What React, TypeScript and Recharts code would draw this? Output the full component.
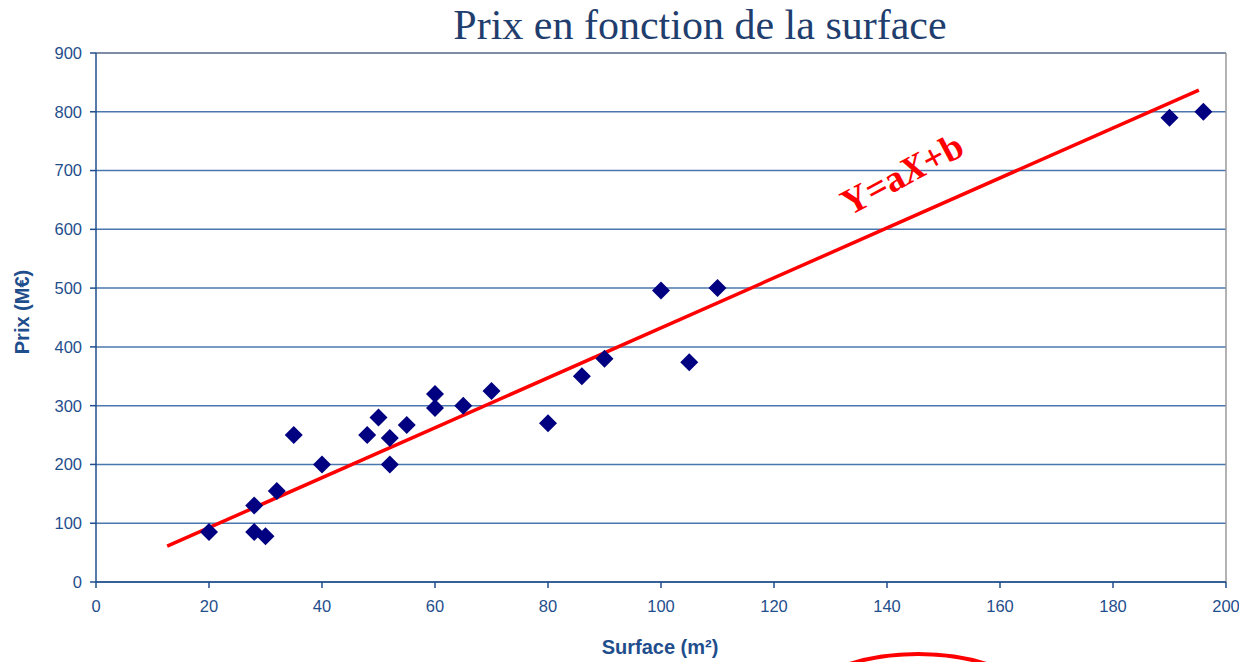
import {
  ScatterChart,
  Scatter,
  XAxis,
  YAxis,
  CartesianGrid,
  ReferenceLine,
  ReferenceDot,
} from 'recharts';

const surfaces = [20, 28, 28, 30, 32, 35, 40, 48, 50, 52, 52, 55, 60, 60, 65, 70, 80, 86, 90, 100, 105, 110, 190, 196];
const prices = [85, 130, 85, 78, 155, 250, 200, 250, 280, 245, 200, 267, 320, 296, 300, 325, 270, 350, 380, 496, 374, 500, 790, 800];

const fitX = [12.6, 195.2];
const fitY = [61, 837];

const xTicks = [0, 20, 40, 60, 80, 100, 120, 140, 160, 180, 200];
const yTicks = [0, 100, 200, 300, 400, 500, 600, 700, 800, 900];

const points = surfaces.map((x, i) => ({ x, y: prices[i] }));
const fitLine = fitX.map((x, i) => ({ x, y: fitY[i] }));

const BLUE = '#1F4E8C';

function Diamond(props: any) {
  const { cx, cy } = props;
  if (cx == null || cy == null) return <g />;
  const r = 9;
  return (
    <polygon
      points={`${cx},${cy - r} ${cx + r},${cy} ${cx},${cy + r} ${cx - r},${cy}`}
      fill="#000080"
    />
  );
}

function EquationLabel(props: any) {
  const { cx, cy } = props;
  return (
    <text
      x={cx}
      y={cy}
      transform={`rotate(-28 ${cx} ${cy})`}
      textAnchor="middle"
      dominantBaseline="middle"
      fill="#FF0000"
      fontFamily="'Liberation Serif', 'Times New Roman', serif"
      fontWeight="bold"
      fontSize={37}
    >
      Y=a<tspan fontStyle="italic">X</tspan>+b
    </text>
  );
}

function Title() {
  return (
    <text
      x={700}
      y={38.5}
      textAnchor="middle"
      fill="#1F3E6E"
      fontFamily="'Liberation Serif', 'Times New Roman', serif"
      fontSize={42}
    >
      Prix en fonction de la surface
    </text>
  );
}

export default function App() {
  return (
    <div style={{ position: 'absolute', left: 0, top: 0, width: 1239, height: 662, background: '#fff', overflow: 'hidden' }}>
      <ScatterChart
        width={1239}
        height={662}
        margin={{ top: 53, right: 13, bottom: 0, left: 0 }}
      >
        <CartesianGrid vertical={false} stroke="#4A77AE" strokeWidth={1.5} />
        <XAxis
          type="number"
          dataKey="x"
          domain={[0, 200]}
          ticks={xTicks}
          height={80}
          stroke={BLUE}
          strokeWidth={1.5}
          tickSize={6}
          tick={{ fill: BLUE, fontSize: 16.5, fontFamily: 'Liberation Sans, Arial, sans-serif' }}
          tickMargin={12}
        />
        <YAxis
          type="number"
          dataKey="y"
          domain={[0, 900]}
          ticks={yTicks}
          width={96}
          stroke={BLUE}
          strokeWidth={1.5}
          tickSize={6}
          tick={{ fill: BLUE, fontSize: 16.5, fontFamily: 'Liberation Sans, Arial, sans-serif' }}
          tickMargin={8}
        />
        <ReferenceLine y={900} stroke="#7F8A99" strokeWidth={1.5} />
        <ReferenceLine x={200} stroke="#9A9A9A" strokeWidth={1.5} />
        <Scatter
          data={fitLine}
          line={{ stroke: '#FF0000', strokeWidth: 3.5 }}
          shape={() => <g />}
          isAnimationActive={false}
        />
        <Scatter data={points} shape={Diamond} isAnimationActive={false} />
        <ReferenceDot x={143} y={688} r={0} shape={EquationLabel} />
      </ScatterChart>
      <svg style={{ position: 'absolute', left: 0, top: 0 }} width={1239} height={662}>
        <Title />
        <ellipse cx={918} cy={722} rx={130} ry={68} fill="none" stroke="#FF0000" strokeWidth={4} />
      </svg>
      <div
        style={{
          position: 'absolute',
          left: 22,
          top: 312,
          transform: 'translate(-50%, -50%) rotate(-90deg)',
          fontFamily: 'Liberation Sans, Arial, sans-serif',
          fontWeight: 'bold',
          fontSize: 20,
          color: BLUE,
          whiteSpace: 'nowrap',
        }}
      >
        Prix (M€)
      </div>
      <div
        style={{
          position: 'absolute',
          left: 660,
          top: 647,
          transform: 'translate(-50%, -50%)',
          fontFamily: 'Liberation Sans, Arial, sans-serif',
          fontWeight: 'bold',
          fontSize: 20,
          color: BLUE,
          whiteSpace: 'nowrap',
        }}
      >
        Surface (m²)
      </div>
    </div>
  );
}
